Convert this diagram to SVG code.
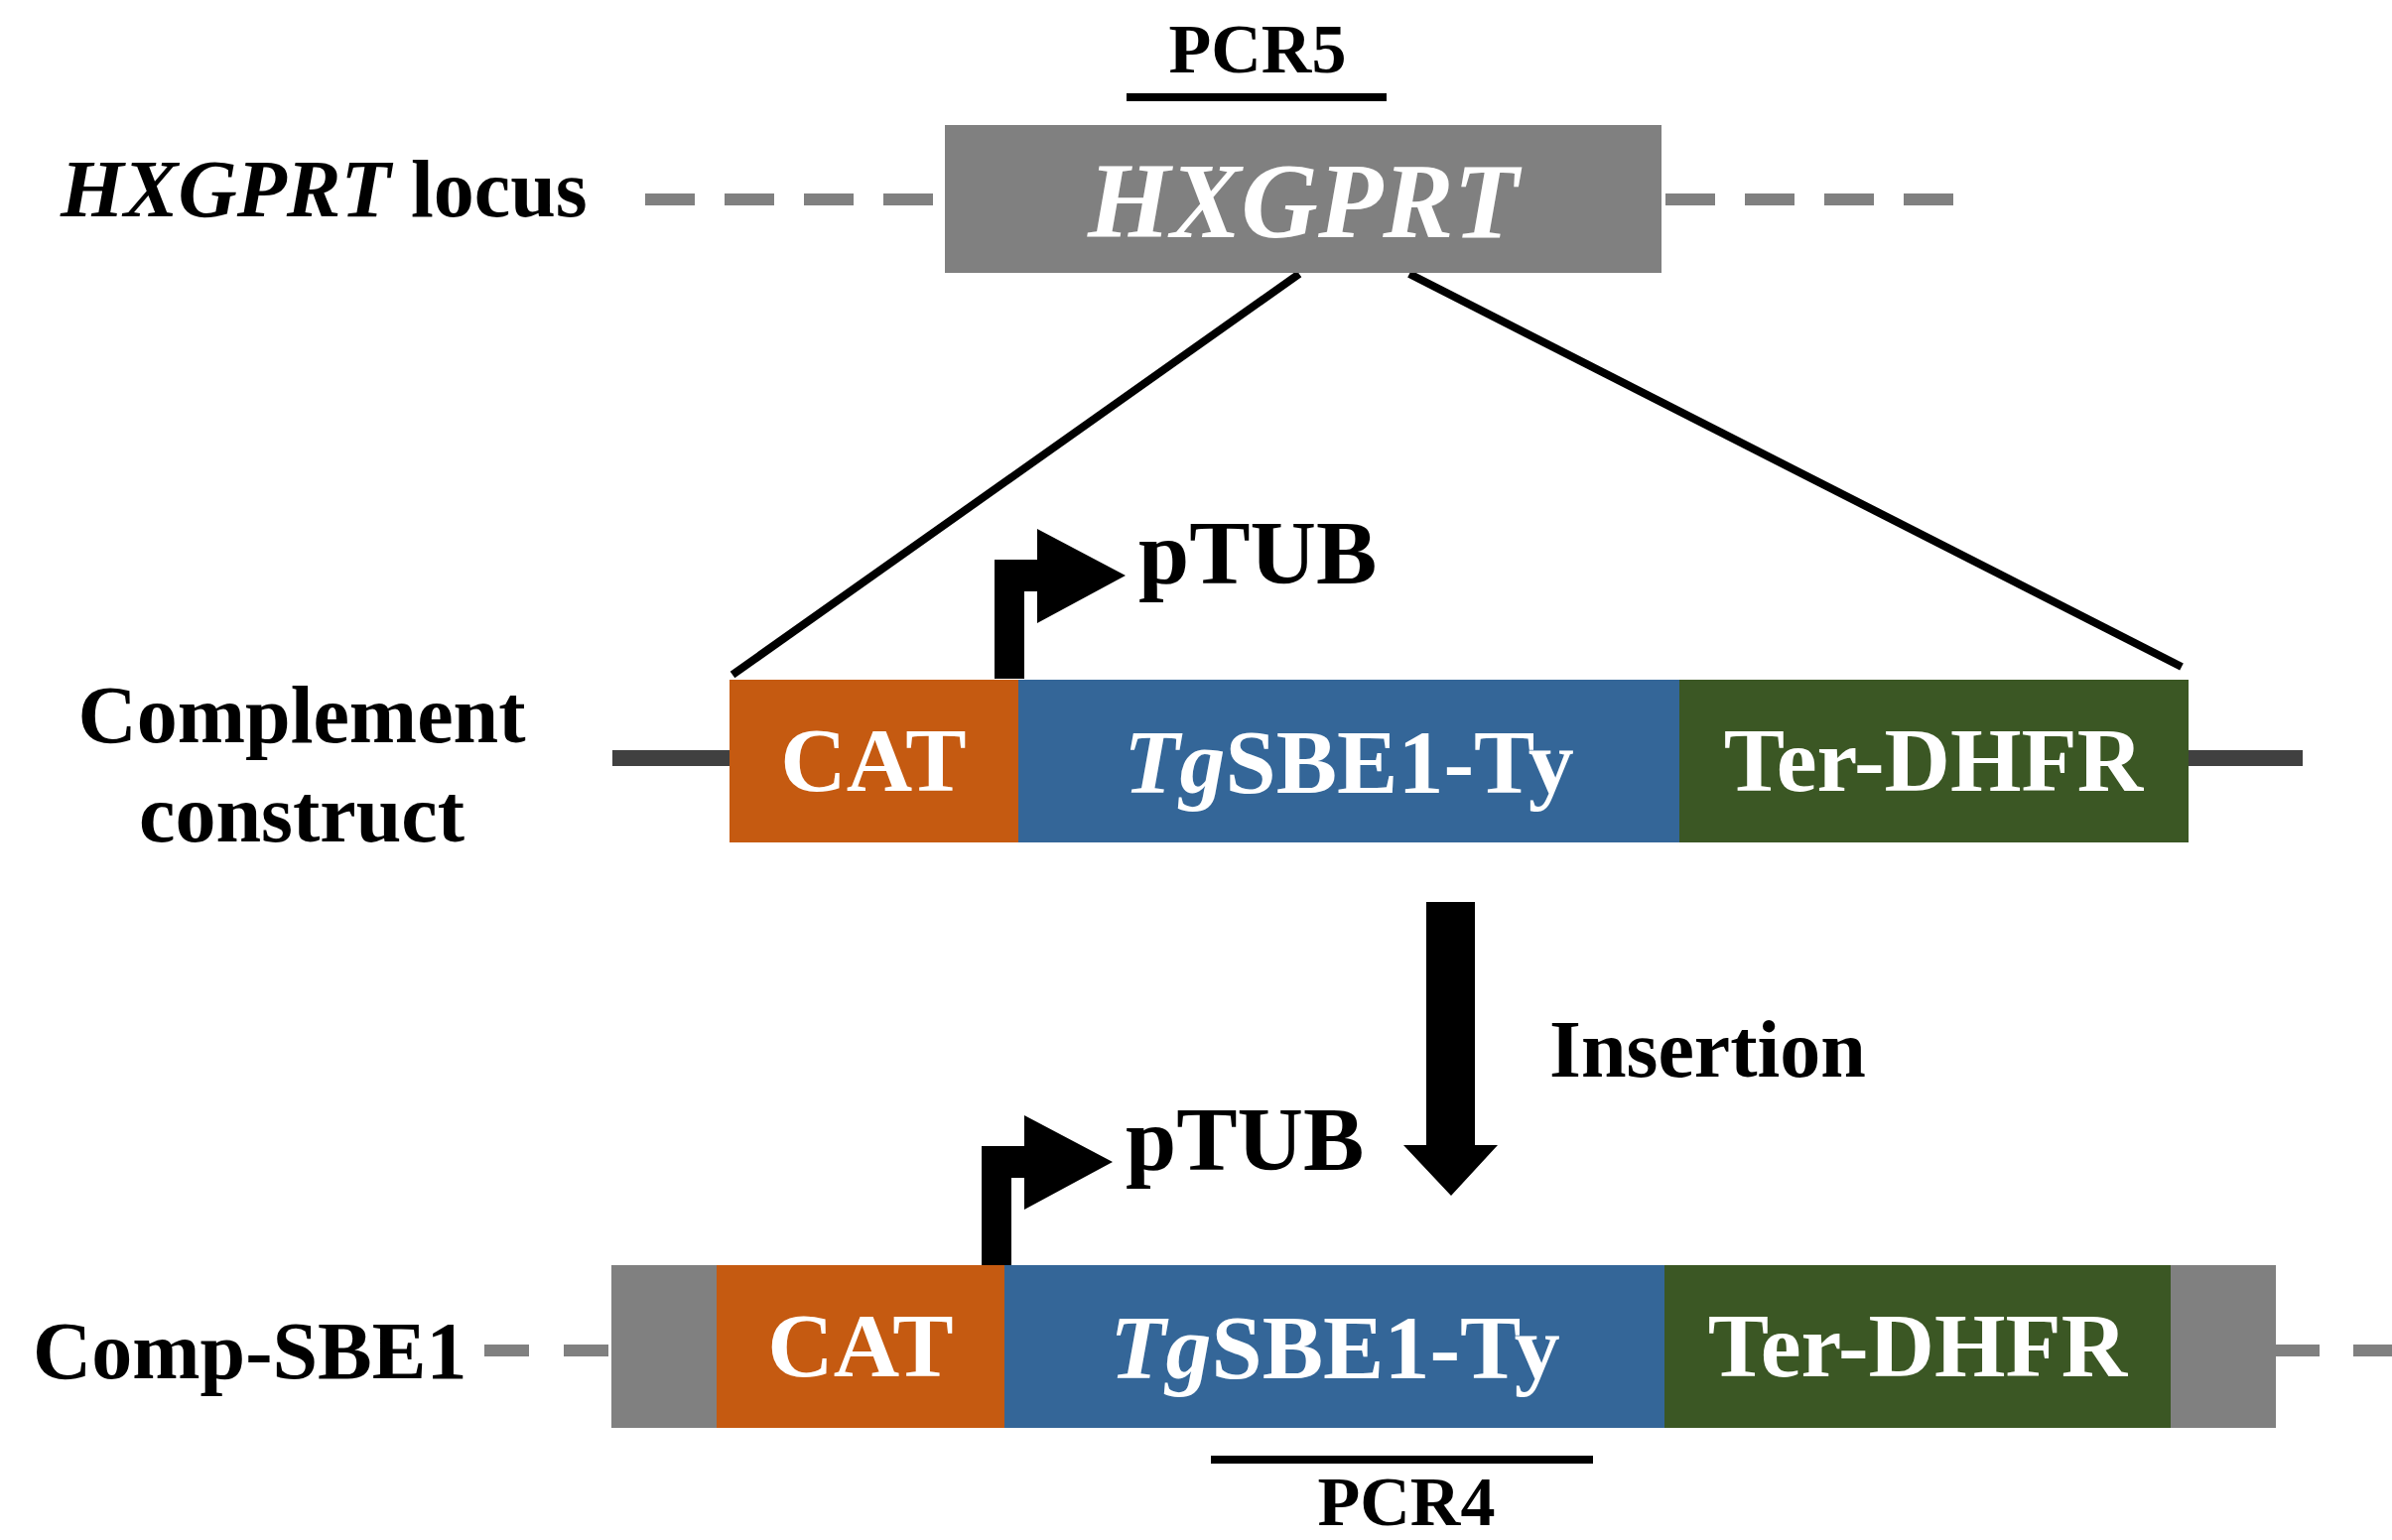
<svg xmlns="http://www.w3.org/2000/svg" width="2410" height="1552" viewBox="0 0 2410 1552">
<style>
text{font-family:"Liberation Serif","Times New Roman",serif;font-weight:bold;}
.lbl{font-size:82px;fill:#000;}
.box{font-size:92px;fill:#fff;text-anchor:middle;}
.big{font-size:107px;font-style:italic;}
.pcr{font-size:70px;fill:#000;text-anchor:middle;}
.ptub{font-size:92px;fill:#000;}
.dash{stroke:#808080;stroke-width:12;fill:none;}
.solid{stroke:#000;stroke-width:8;fill:none;}
.bb{stroke:#404040;stroke-width:16;fill:none;}
.gray{fill:#808080;}
.cat{fill:#C55A11;}
.sbe{fill:#346698;}
.ter{fill:#3B5724;}
</style>
<rect width="2410" height="1552" fill="#fff"/>
<g id="connectors">
  <line class="dash" x1="650" y1="201" x2="945" y2="201" stroke-dasharray="50 30"/>
  <line class="dash" x1="1678" y1="201" x2="1972" y2="201" stroke-dasharray="50 30"/>
  <line class="solid" x1="1309" y1="276" x2="738" y2="680"/>
  <line class="solid" x1="1420" y1="276" x2="2198" y2="672"/>
  <line class="bb" x1="617" y1="764" x2="736" y2="764"/>
  <line class="bb" x1="2204" y1="764" x2="2320" y2="764"/>
  <line class="dash" x1="488" y1="1361" x2="616" y2="1361" stroke-dasharray="45 35"/>
  <line class="dash" x1="2293" y1="1361" x2="2410" y2="1361" stroke-dasharray="44 34"/>
  <path id="insertion-arrow" d="M1437,909 L1486,909 L1486,1154 L1509,1154 L1462,1205 L1414,1154 L1437,1154 Z" fill="#000"/>
</g>
<g id="pcr5">
  <text class="pcr" x="1267" y="73">PCR5</text>
  <line x1="1135" y1="98" x2="1397" y2="98" stroke="#000" stroke-width="8"/>
</g>
<g id="hxgprt-label">
  <text class="lbl" x="61" y="218"><tspan font-style="italic">HXGPRT</tspan> locus</text>
</g>
<g id="hxgprt-box">
  <rect class="gray" x="952" y="126" width="722" height="149"/>
  <text class="box big" x="1313" y="239">HXGPRT</text>
</g>
<g id="complement-label">
  <text class="lbl" x="304" y="748" text-anchor="middle">Complement</text>
  <text class="lbl" x="304" y="848" text-anchor="middle">construct</text>
</g>
<g id="construct-ptub">
  <path d="M1002,684 L1002,564 L1045,564 L1045,533 L1134,580 L1045,628 L1045,596 L1032,596 L1032,684 Z" fill="#000"/>
  <text class="ptub" x="1147" y="588">pTUB</text>
</g>
<g id="construct-cat">
  <rect class="cat" x="735" y="685" width="291" height="164"/>
  <text class="box" x="880" y="797">CAT</text>
</g>
<g id="construct-sbe1">
  <rect class="sbe" x="1026" y="685" width="666" height="164"/>
  <text class="box" x="1359" y="799"><tspan font-style="italic">Tg</tspan>SBE1-Ty</text>
</g>
<g id="construct-ter">
  <rect class="ter" x="1692" y="685" width="513" height="164"/>
  <text class="box" x="1948" y="797">Ter-DHFR</text>
</g>
<g id="insertion-label">
  <text class="lbl" x="1561" y="1085">Insertion</text>
</g>
<g id="comp-label">
  <text class="lbl" x="33" y="1389">Comp-SBE1</text>
</g>
<g id="comp-ptub">
  <path d="M989,1275 L989,1155 L1032,1155 L1032,1124 L1121,1171 L1032,1219 L1032,1187 L1019,1187 L1019,1275 Z" fill="#000"/>
  <text class="ptub" x="1134" y="1179">pTUB</text>
</g>
<g id="comp-left-flank">
  <rect class="gray" x="616" y="1275" width="107" height="164"/>
</g>
<g id="comp-cat">
  <rect class="cat" x="722" y="1275" width="291" height="164"/>
  <text class="box" x="867" y="1387">CAT</text>
</g>
<g id="comp-sbe1">
  <rect class="sbe" x="1012" y="1275" width="666" height="164"/>
  <text class="box" x="1345" y="1389"><tspan font-style="italic">Tg</tspan>SBE1-Ty</text>
</g>
<g id="comp-ter">
  <rect class="ter" x="1677" y="1275" width="511" height="164"/>
  <text class="box" x="1932" y="1387">Ter-DHFR</text>
</g>
<g id="comp-right-flank">
  <rect class="gray" x="2187" y="1275" width="106" height="164"/>
</g>
<g id="pcr4">
  <line x1="1220" y1="1471" x2="1605" y2="1471" stroke="#000" stroke-width="8"/>
  <text class="pcr" x="1417" y="1537">PCR4</text>
</g>
</svg>
